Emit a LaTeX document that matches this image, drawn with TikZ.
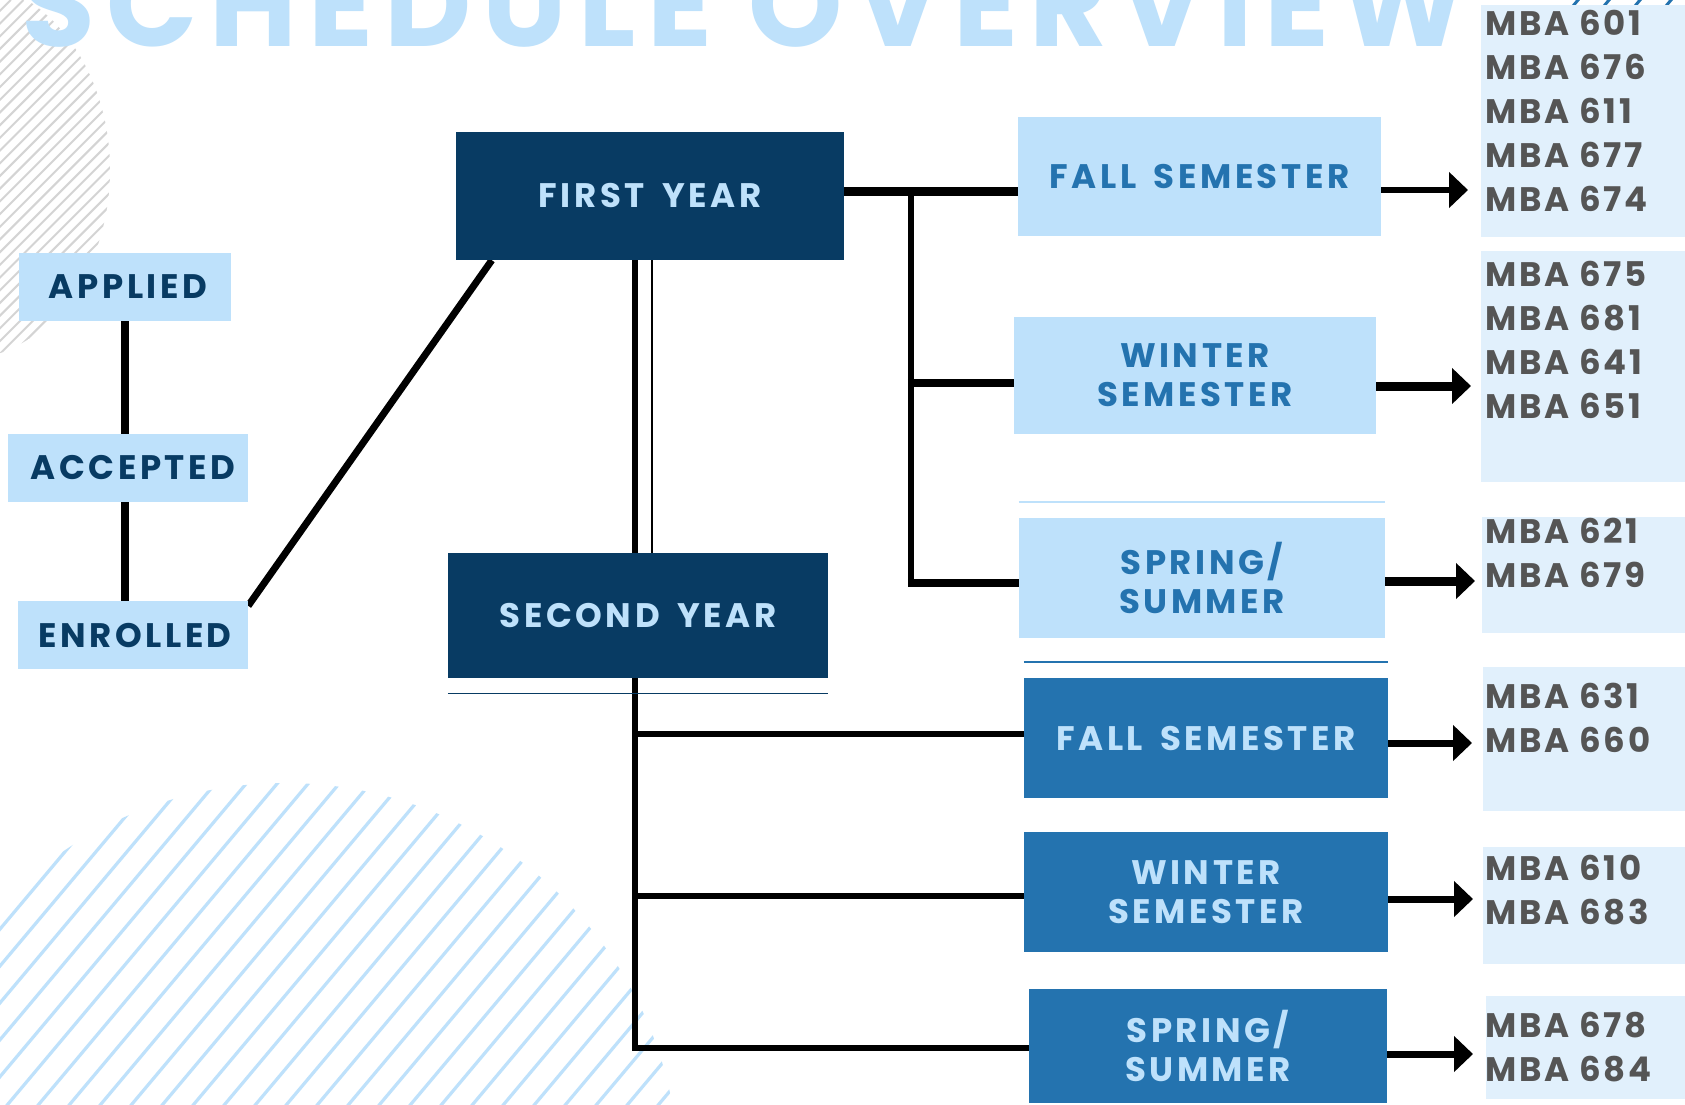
\documentclass[tikz,border=0pt]{standalone}
\usepackage{fontspec}
\setmainfont{Poppins}
\newfontfamily\lblfont{Poppins}[LetterSpace=10.5, WordSpace=1.6]
\newfontfamily\crsfont{Poppins}[LetterSpace=8]
\newfontfamily\ttlfont{Poppins}[LetterSpace=9.4]
\usetikzlibrary{arrows.meta,calc}
\pgfdeclarelayer{back}
\pgfdeclarelayer{bg}
\pgfsetlayers{back,bg,main}
\definecolor{navyc}{HTML}{083B63}
\definecolor{palec}{HTML}{BEE1FB}
\definecolor{midc}{HTML}{2473AF}
\definecolor{coursec}{HTML}{E1F0FC}
\definecolor{crstextc}{HTML}{555555}
\definecolor{hgrayc}{HTML}{D4D4D4}
\begin{document}
\begin{tikzpicture}[x=1pt,y=-1pt,
  box/.style={rectangle, inner sep=0pt, align=center, font=\lblfont\bfseries\fontsize{34}{39}\selectfont},
  status/.style={box, fill=palec, text=navyc},
  year/.style={box, fill=navyc, text=palec},
  semA/.style={box, fill=palec, text=midc},
  semB/.style={box, fill=midc, text=palec},
  crs/.style={rectangle, inner sep=0pt, fill=coursec},
  crstxt/.style={inner sep=0pt, anchor=north west, align=left, text=crstextc, font=\crsfont\bfseries\fontsize{34}{44}\selectfont},
  arr/.style={-{Triangle[length=19pt,width=35pt]}, black},
]
\useasboundingbox (0,0) rectangle (1685,1104);

% nodes
\node[status, minimum width=212pt, minimum height=68pt] (applied) at (125,287) {\hspace*{6pt}APPLIED};
\node[status, minimum width=240pt, minimum height=68pt] (accepted) at (128,468) {\hspace*{10pt}ACCEPTED};
\node[status, minimum width=230pt, minimum height=68pt] (enrolled) at (133,635) {\hspace*{4pt}ENROLLED};
\node[year, minimum width=388pt, minimum height=128pt] (fy) at (650,196) {FIRST YEAR};
\node[year, minimum width=380pt, minimum height=125pt] (sy) at (638,615.5) {SECOND YEAR};
\node[semA, minimum width=363pt, minimum height=119pt] (f1) at (1199.5,176.5) {FALL SEMESTER};
\node[semA, minimum width=362pt, minimum height=117pt] (w1) at (1195,375.5) {WINTER\\SEMESTER};
\node[semA, minimum width=366pt, minimum height=120pt] (s1) at (1202,578) {SPRING/\\SUMMER};
\node[semB, minimum width=364pt, minimum height=120pt] (f2) at (1206,738) {FALL SEMESTER};
\node[semB, minimum width=364pt, minimum height=120pt] (w2) at (1206,892) {WINTER\\SEMESTER};
\node[semB, minimum width=358pt, minimum height=114pt] (s2) at (1208,1046) {SPRING/\\SUMMER};

\node[crs, minimum width=204pt, minimum height=232pt] (c1) at (1583,121) {};
\node[crs, minimum width=204pt, minimum height=231pt] (c2) at (1583,366.5) {};
\node[crs, minimum width=203pt, minimum height=116pt] (c3) at (1583.5,575) {};
\node[crs, minimum width=202pt, minimum height=144pt] (c4) at (1584,739) {};
\node[crs, minimum width=202pt, minimum height=117pt] (c5) at (1584,905.5) {};
\node[crs, minimum width=199pt, minimum height=103pt] (c6) at (1585.5,1047.5) {};

\node[crstxt] (t1) at (1485,10) {MBA 601\\MBA 676\\MBA 611\\MBA 677\\MBA 674};
\node[crstxt] (t2) at (1485,261) {MBA 675\\MBA 681\\MBA 641\\MBA 651};
\node[crstxt] (t3) at (1485,518) {MBA 621\\MBA 679};
\node[crstxt] (t4) at (1485,683) {MBA 631\\MBA 660};
\node[crstxt] (t5) at (1485,855) {MBA 610\\MBA 683};
\node[crstxt] (t6) at (1485,1012) {MBA 678\\MBA 684};

% arrows
\coordinate (a1) at (1468,190);
\coordinate (a2) at (1471,386);
\coordinate (a3) at (1475,581);
\coordinate (a4) at (1472,743);
\coordinate (a5) at (1473,899);
\coordinate (a6) at (1473,1054);
\draw[arr, line width=6pt] (f1.east |- a1) -- (a1);
\draw[arr, line width=9pt] (w1.east |- a2) -- (a2);
\draw[arr, line width=9pt] (s1.east |- a3) -- (a3);
\draw[arr, line width=7pt] (f2.east |- a4) -- (a4);
\draw[arr, line width=7pt] (w2.east |- a5) -- (a5);
\draw[arr, line width=7pt] (s2.east |- a6) -- (a6);

% connectors behind boxes
\begin{pgfonlayer}{bg}
\draw[line width=8pt] (applied.south) -- (applied.south |- accepted.north);
\draw[line width=8pt] (applied.south |- accepted.south) -- (applied.south |- enrolled.north);
\draw[line width=7pt] ($(enrolled.north east)+(0,5)$) -- ($(fy.south west)+(36,0)$);
\coordinate (j1) at (911,191);
\coordinate (j2) at (911,383);
\coordinate (j3) at (911,583);
\draw[line width=9pt] (fy.east |- j1) -- (f1.west |- j1);
\draw[line width=6.5pt] (j1) -- ($(j3)+(0,3.75)$);
\draw[line width=7.5pt] ($(j2)+(-3.25,0)$) -- (w1.west |- j2);
\draw[line width=7.5pt] ($(j3)+(-3.25,0)$) -- (s1.west |- j3);
\coordinate (k1) at (635,734);
\coordinate (k2) at (635,896);
\coordinate (k3) at (635,1048);
\coordinate (kt) at (652,0);
\draw[line width=6pt] (fy.south -| k1) -- (sy.north -| k1);
\draw[line width=1.3pt] (fy.south -| kt) -- (sy.north -| kt);
\draw[line width=6pt] (sy.south -| k1) -- ($(k3)+(0,3)$);
\draw[line width=6pt] ($(k1)+(-3,0)$) -- (f2.west |- k1);
\draw[line width=6pt] ($(k2)+(-3,0)$) -- (w2.west |- k2);
\draw[line width=6pt] ($(k3)+(-3,0)$) -- (s2.west |- k3);
\draw[palec, line width=1.5pt] ($(s1.north west)+(0,-16)$) -- ($(s1.north east)+(0,-16)$);
\draw[midc, line width=1.5pt] ($(f2.north west)+(0,-16)$) -- ($(f2.north east)+(0,-16)$);
\draw[navyc, line width=1.2pt] ($(sy.south west)+(0,15)$) -- ($(sy.south east)+(0,15)$);
\end{pgfonlayer}

% background decorations
\begin{pgfonlayer}{back}
\fill[white] (0,0) rectangle (1685,1104);
\begin{scope}
\clip (-40,170) ellipse [x radius=150pt, y radius=190pt];
\foreach \t in {-440,-427.3,...,130} \draw[hgrayc, line width=2pt] (\t,400) -- ++(400,-400);
\end{scope}
\begin{scope}
\clip (285,1177) circle [radius=394pt];
\foreach \t in {-400,-369,...,720} \draw[palec, line width=3.2pt] (\t,1110) -- ++(336,-400);
\end{scope}
\foreach \x in {1573,1604,1635,1666} \draw[midc, line width=3pt] (\x,6) -- ++(10,-12);
\node[anchor=base west, inner sep=0pt, text=palec, font=\ttlfont\bfseries\fontsize{120}{120}\selectfont] (title) at (21,46) {SCHEDULE OVERVIEW};
\end{pgfonlayer}
\end{tikzpicture}
\end{document}
